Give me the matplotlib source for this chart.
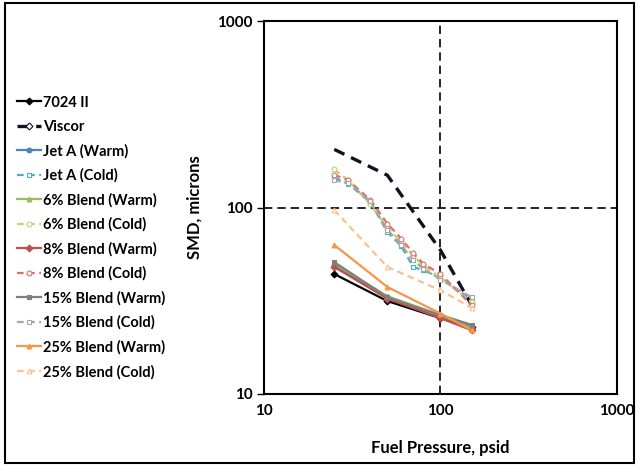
import numpy as np
import matplotlib
matplotlib.use('Agg')
import matplotlib.pyplot as plt
from matplotlib.patches import Rectangle

plt.rcParams['font.family'] = ['Lato', 'DejaVu Sans']
plt.rcParams['font.weight'] = 'bold'

# Fuel pressure (psid) at which each series was measured
p_warm = [25, 50, 100, 150]
p_cold = [25, 30, 40, 50, 60, 70, 80, 100, 150]

# SMD (microns), warm runs
smd_7024 = [44, 31.5, 25.5, 23]
smd_viscor = [205, 149, 59, 30]
smd_jeta_w = [49, 33, 26, 23]
smd_b6_w = [50, 33.5, 26.5, 22.5]
smd_b8_w = [48, 32.5, 25.5, 22]
smd_b15_w = [51, 33, 26.5, 23.5]
smd_b25_w = [63, 37.5, 27, 22]

# SMD (microns), cold runs
smd_jeta_c = [145, 134, 107, 74, 62, 48, 46, 42, 32]
smd_b6_c = [160, 140, 104, 78, 65, 55, 49, 42, 31]
smd_b8_c = [150, 140, 110, 82, 68, 57, 50, 44, 30]
smd_b15_c = [140, 136, 108, 76, 63, 52, 47, 41, 33]
smd_b25_c = [97, 48, 36, 29]

series = [
    ('7024 II', p_warm, smd_7024, '#000000', '-', 'D', True),
    ('Viscor', p_warm, smd_viscor, '#111122', '--', 'D', False),
    ('Jet A (Warm)', p_warm, smd_jeta_w, '#4f81bd', '-', 'o', True),
    ('Jet A (Cold)', p_cold, smd_jeta_c, '#4bacc6', '--', 's', False),
    ('6% Blend (Warm)', p_warm, smd_b6_w, '#9bbb59', '-', '^', True),
    ('6% Blend (Cold)', p_cold, smd_b6_c, '#c4d070', '--', 'o', False),
    ('8% Blend (Warm)', p_warm, smd_b8_w, '#c0504d', '-', 'D', True),
    ('8% Blend (Cold)', p_cold, smd_b8_c, '#e07070', '--', 'o', False),
    ('15% Blend (Warm)', p_warm, smd_b15_w, '#7f7f7f', '-', 's', True),
    ('15% Blend (Cold)', p_cold, smd_b15_c, '#a6a6a6', '--', 's', False),
    ('25% Blend (Warm)', p_warm, smd_b25_w, '#f79646', '-', '^', True),
    ('25% Blend (Cold)', p_warm, smd_b25_c, '#fac090', '--', '^', False),
]

fig = plt.figure(figsize=(6.37, 4.65), dpi=100)
ax = fig.add_axes([0.4144, 0.1527, 0.5542, 0.8021])

for name, x, y, col, ls, mk, filled in series:
    if name == 'Viscor':
        # heavy dashed curve, markers too small to show
        ax.plot(x, y, color=col, lw=2.4, dashes=(3.4, 2.2), marker=mk, ms=3.5,
                markerfacecolor='white', markeredgecolor=col,
                markeredgewidth=0.8, markevery=[], label=name)
        continue
    line, = ax.plot(x, y, color=col, ls=ls, lw=1.6, marker=mk, ms=3.5,
                    markerfacecolor=col if filled else 'white',
                    markeredgecolor=col, markeredgewidth=0.8, label=name)
    if ls == '--':
        line.set_dashes((3, 2))

ax.set_xscale('log')
ax.set_yscale('log')
ax.set_xlim(10, 1000)
ax.set_ylim(10, 1000)
ax.set_xticks([10, 100, 1000])
ax.set_yticks([10, 100, 1000])
ax.set_xticklabels(['10', '100', '1000'])
ax.set_yticklabels(['10', '100', '1000'])
ax.minorticks_off()
ax.tick_params(axis='x', length=0, pad=7, labelsize=11)
ax.tick_params(axis='y', length=5, width=1, direction='out', pad=3, labelsize=11)

ax.axvline(100, color='black', lw=1.2, ls=(0, (5, 3)), zorder=0)
ax.axhline(100, color='black', lw=1.2, ls=(0, (5, 3)), zorder=0)

for s in ax.spines.values():
    s.set_linewidth(1.5)

ax.set_xlabel('Fuel Pressure, psid', fontsize=12, fontweight='bold', labelpad=16)
ax.set_ylabel('SMD, microns', fontsize=12, fontweight='bold', labelpad=11)

leg = ax.legend(loc='upper left', bbox_to_anchor=(0.018, 0.807),
                bbox_transform=fig.transFigure, frameon=False,
                fontsize=10.5, handlelength=1.6, handletextpad=0.15,
                labelspacing=0.69, borderaxespad=0, numpoints=1)

fig.patches.append(Rectangle((0.008, 0.004), 0.988, 0.99, transform=fig.transFigure,
                             fill=False, edgecolor='black', lw=1.5))

fig.savefig('out.png', dpi=100)
